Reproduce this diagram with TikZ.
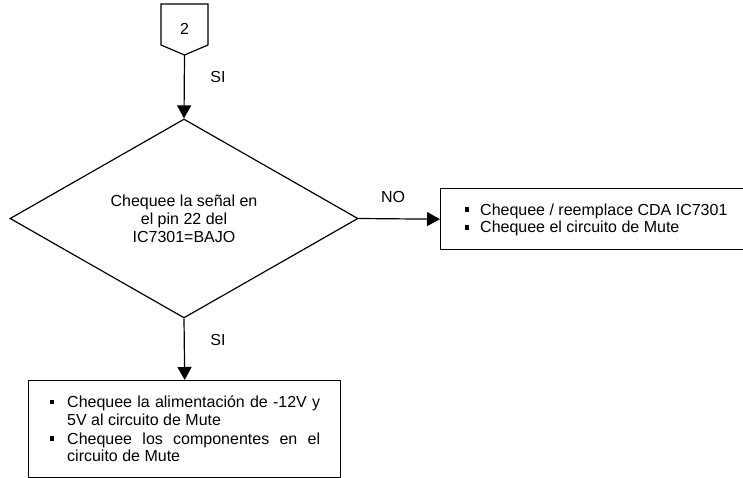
\documentclass[tikz,border=0pt]{standalone}
\usepackage{fontspec}
\setmainfont{Liberation Sans}
\usetikzlibrary{shapes.geometric,arrows.meta}
\begin{document}
\begin{tikzpicture}[x=1pt,y=-1pt,
  font=\fontsize{16pt}{18pt}\selectfont,
  arr/.style={line width=1.2pt,-{Triangle[length=13pt,width=14pt]}},
  lbl/.style={inner sep=0pt},
  boxstyle/.style={draw, line width=1.4pt, inner sep=0pt},
  bul/.style={fill, minimum size=4.5pt, inner sep=0pt},
  txt/.style={inner sep=0pt, anchor=base west}]
\useasboundingbox (0,0) rectangle (743,478);
\clip (0,0) rectangle (743,478);

% off-page connector
\coordinate (ctl) at (161,4);
\coordinate (ctr) at (208,4);
\coordinate (cbr) at (208,45);
\coordinate (conntip) at (184.5,55);
\coordinate (cbl) at (161,45);
\draw[line width=1.2pt] (ctl) -- (ctr) -- (cbr) -- (conntip) -- (cbl) -- cycle;
\node[lbl] (conn) at (184.5,29) {2};

% decision
\node[diamond, draw, line width=1.2pt, minimum width=348pt, minimum height=199pt,
      inner sep=0pt, aspect=1.75, align=center] (dec) at (184,218.5)
      {Chequee la señal en\\el pin 22 del\\IC7301=BAJO};

\draw[arr] (conntip) -- (dec.north);
\node[lbl] (si1) at (218,77) {SI};

% right box
\node[boxstyle, minimum width=320pt, minimum height=61pt, anchor=north west] (boxno) at (440,188) {};
\draw[arr] (dec.east) -- (boxno.west);
\node[lbl] (no) at (393,197) {NO};
\node[bul] (rb1) at (467,209.5) {};
\node[txt] (rt1) at (480,215) {Chequee / reemplace CDA IC7301};
\node[bul] (rb2) at (467,227.5) {};
\node[txt] (rt2) at (480,233) {Chequee el circuito de Mute};

% bottom box
\node[boxstyle, minimum width=312pt, minimum height=97pt, anchor=north west] (boxsi) at (28,380) {};
\draw[arr] (dec.south) -- (boxsi.north);
\node[lbl] (si2) at (218,340) {SI};
\node[bul] (bb1) at (52,402) {};
\node[txt] (bt1) at (67,407.4) {\makebox[253pt][s]{Chequee la alimentación de -12V y}};
\node[txt] (bt2) at (67,425) {5V al circuito de Mute};
\node[bul] (bb2) at (52,438.5) {};
\node[txt] (bt3) at (67,444) {\makebox[253pt][s]{Chequee los componentes en el}};
\node[txt] (bt4) at (67,461.4) {circuito de Mute};
\end{tikzpicture}
\end{document}
